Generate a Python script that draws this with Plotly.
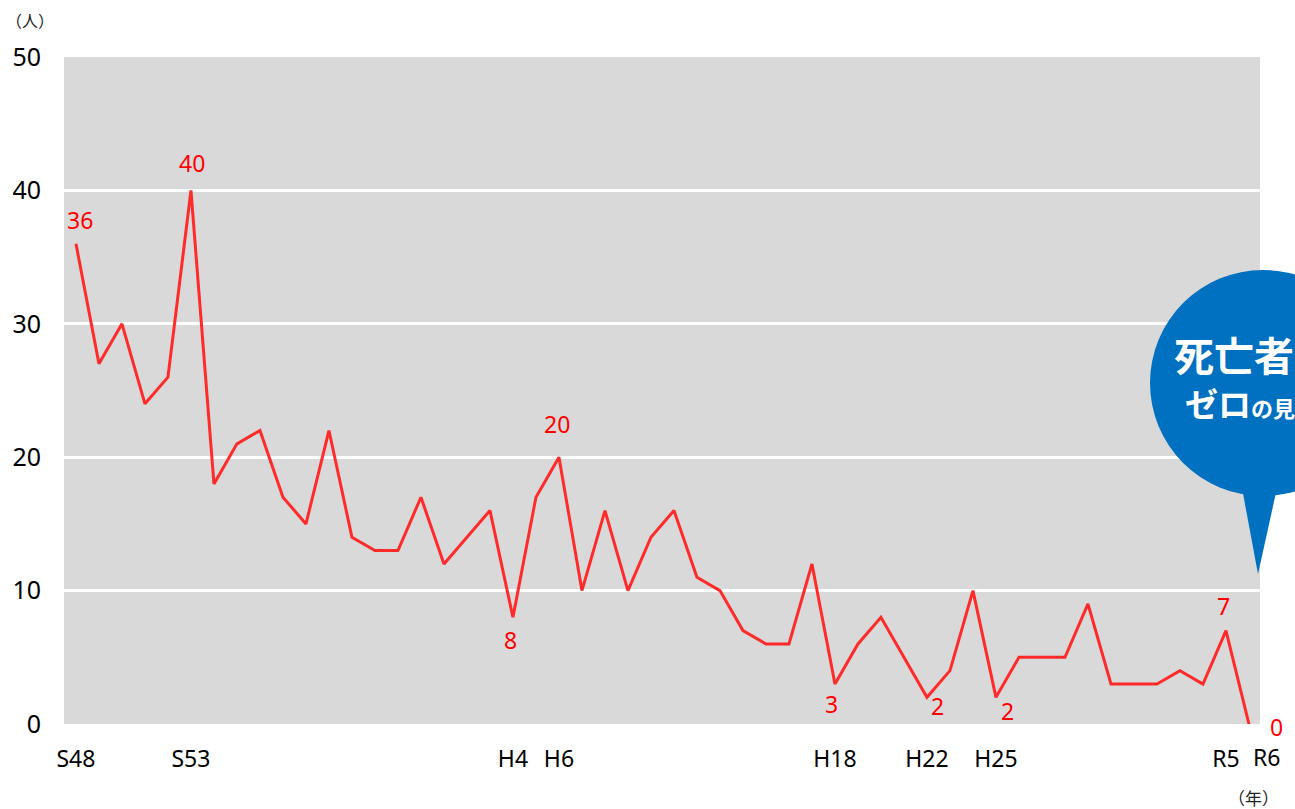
import plotly.graph_objects as go

# ---- data ----
years = list(range(1973, 2025))  # S48 .. R6
deaths = [36, 27, 30, 24, 26, 40, 18, 21, 22, 17,
          15, 22, 14, 13, 13, 17, 12, 14, 16, 8,
          17, 20, 10, 16, 10, 14, 16, 11, 10, 7,
          6, 6, 12, 3, 6, 8, 5, 2, 4, 10,
          2, 5, 5, 5, 9, 3, 3, 3, 4, 3,
          7, 0]
tick_years = [1973, 1978, 1992, 1994, 2006, 2010, 2013, 2023]
tick_labels = ["S48", "S53", "H4", "H6", "H18", "H22", "H25", "R5"]
last_tick_year = 2024
last_tick_label = "R6"
label_years = [1973, 1978, 1992, 1994, 2006, 2010, 2013, 2023, 2024]
y_ticks = [0, 10, 20, 30, 40, 50]
bubble_line1 = "死亡者"
bubble_line2a = "ゼロ"
bubble_line2b = "の見"

# label offsets (pixels) relative to their points
label_dx = [4, 1, -2, -2, -3, 11, 12, -2, 28]
label_dy = [24, 27, -23, 33, -20, -9, -14, 25, -3]

RED = "#FF2B2B"
BLUE = "#0070C0"
NUM_FONT = "Noto Sans, sans-serif"
JP_FONT = "Noto Sans CJK JP"

label_vals = [deaths[years.index(y)] for y in label_years]

fig = go.Figure()
fig.add_trace(go.Scatter(
    x=years, y=deaths, mode="lines",
    line=dict(color=RED, width=3), cliponaxis=False, hoverinfo="skip"))

for yr, v, dx, dy in zip(label_years, label_vals, label_dx, label_dy):
    fig.add_annotation(x=yr, y=v, xref="x", yref="y", text=str(v), showarrow=False,
                       xanchor="center", yanchor="middle", xshift=dx, yshift=dy,
                       font=dict(color="#FF0000", size=23, family=NUM_FONT))

W, H = 1295, 809
L, R, T, B = 64, 1260, 57, 724


def px(X):
    return (X - L) / (R - L)


def py(Y):
    return (B - Y) / (B - T)


# last x tick label (shifted right in the original)
fig.add_annotation(x=last_tick_year, xref="x", yref="paper", y=py(757),
                   text=last_tick_label, showarrow=False, xanchor="center",
                   yanchor="middle", xshift=18,
                   font=dict(family=NUM_FONT, size=23, color="black"))

# speech bubble
fig.add_shape(type="circle", xref="paper", yref="paper",
              x0=px(1150), x1=px(1376), y0=py(496), y1=py(270),
              fillcolor=BLUE, line=dict(width=0), layer="above")
fig.add_shape(type="path", xref="paper", yref="paper",
              path=f"M {px(1242)} {py(488)} L {px(1277)} {py(488)} L {px(1258)} {py(574)} Z",
              fillcolor=BLUE, line=dict(width=0), layer="above")

fig.add_annotation(xref="paper", yref="paper", x=px(1172), y=py(354),
                   xanchor="left", yanchor="middle", showarrow=False,
                   text=f"<b>{bubble_line1}</b>",
                   font=dict(family=JP_FONT, size=40, color="white"))
fig.add_annotation(xref="paper", yref="paper", x=px(1183), y=py(403),
                   xanchor="left", yanchor="middle", showarrow=False,
                   text=f"<b>{bubble_line2a}<span style='font-size:22px'>{bubble_line2b}</span></b>",
                   font=dict(family=JP_FONT, size=33, color="white"))

# unit labels
fig.add_annotation(xref="paper", yref="paper", x=px(4), y=py(20),
                   xanchor="left", yanchor="middle", showarrow=False,
                   text="（人）", font=dict(family=JP_FONT, size=16, color="#222"))
fig.add_annotation(xref="paper", yref="paper", x=px(1253), y=py(798),
                   xanchor="center", yanchor="middle", showarrow=False,
                   text="（年）", font=dict(family=JP_FONT, size=17, color="#222"))

fig.update_layout(
    width=W, height=H,
    margin=dict(l=L, r=W - R, t=T, b=H - B, pad=0),
    paper_bgcolor="white", plot_bgcolor="#D9D9D9",
    showlegend=False,
    xaxis=dict(range=[1972.48, 2024.48], tickmode="array", tickvals=tick_years,
               ticktext=tick_labels, showgrid=False, zeroline=False, showline=False,
               ticks="", ticklabelstandoff=19, tickangle=0,
               tickfont=dict(family=NUM_FONT, size=23, color="black"),
               fixedrange=True),
    yaxis=dict(range=[0, 50], tickmode="array", tickvals=y_ticks,
               showgrid=True, gridcolor="white", gridwidth=3, zeroline=False,
               showline=False, ticks="", ticklabelstandoff=22,
               tickfont=dict(family=NUM_FONT, size=25, color="black"),
               fixedrange=True),
)

fig.write_html("out.html")
